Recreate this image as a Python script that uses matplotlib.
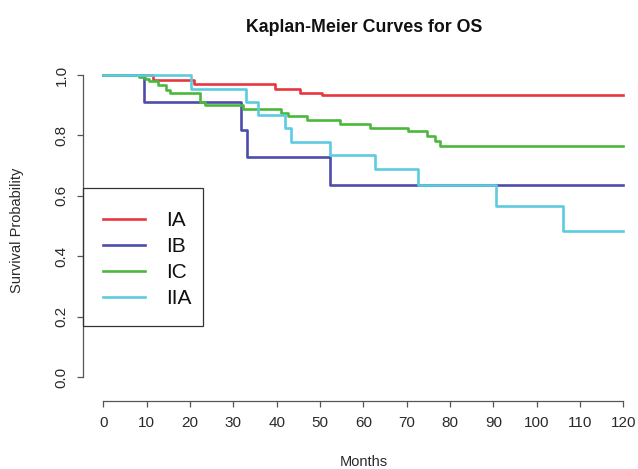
import matplotlib
matplotlib.use('Agg')
import matplotlib.pyplot as plt
from matplotlib.patches import Rectangle

# Kaplan-Meier step data (months, survival)
groups = ['IA', 'IB', 'IC', 'IIA']
colors = ['#e8363f', '#4d4cab', '#4bb83c', '#5ccbe0']

ia_t = [0, 11.5, 21.0, 39.5, 45.3, 50.5, 120]
ia_s = [1.0, 0.985, 0.971, 0.955, 0.941, 0.933, 0.933]

ib_t = [0, 9.3, 31.8, 33.1, 52.3, 120]
ib_s = [1.0, 0.909, 0.818, 0.727, 0.636, 0.636]

ic_t = [0, 8.3, 9.5, 10.6, 12.6, 14.5, 15.3, 22.2, 23.4, 32.2, 41.0, 42.6,
        46.9, 54.6, 61.5, 70.4, 74.6, 76.5, 77.7, 120]
ic_s = [1.0, 0.993, 0.988, 0.980, 0.966, 0.950, 0.939, 0.912, 0.901, 0.889,
        0.874, 0.865, 0.850, 0.838, 0.823, 0.814, 0.798, 0.782, 0.766, 0.766]

iia_t = [0, 20.3, 33.0, 35.6, 41.8, 43.4, 52.4, 62.7, 72.7, 90.6, 106.0, 120]
iia_s = [1.0, 0.955, 0.912, 0.869, 0.825, 0.779, 0.735, 0.688, 0.636, 0.566,
         0.485, 0.485]

x_ticks = list(range(0, 121, 10))
y_ticks = [0.0, 0.2, 0.4, 0.6, 0.8, 1.0]

plt.rcParams['font.family'] = ['Liberation Sans', 'DejaVu Sans']

W, H = 638, 469
fig = plt.figure(figsize=(W / 100, H / 100), dpi=100)
# axes placed in pixel terms, R style (4% padding on each side)
ax = fig.add_axes([82.7 / W, 1 - 389.1 / H, (644.1 - 82.7) / W, (389.1 - 62.9) / H])
ax.set_xlim(-4.8, 124.8)
ax.set_ylim(-0.04, 1.04)

series = [(ia_t, ia_s), (ib_t, ib_s), (ic_t, ic_s), (iia_t, iia_s)]
for (t, s), c, g in zip(series, colors, groups):
    ax.step(t, s, where='post', color=c, lw=1.9, label=g)

axis_col = '#555555'
text_col = '#2a2a2a'
for side in ['top', 'right']:
    ax.spines[side].set_visible(False)
ax.spines['left'].set_bounds(0, 1)
ax.spines['bottom'].set_bounds(0, 120)
ax.spines['bottom'].set_position(('outward', 8.6))
for side in ['left', 'bottom']:
    ax.spines[side].set_color(axis_col)
    ax.spines[side].set_linewidth(0.9)

ax.set_xticks(x_ticks)
ax.set_yticks(y_ticks)
ax.set_yticklabels([f'{v:.1f}' for v in y_ticks], rotation=90, va='center')
ax.tick_params(axis='both', direction='out', length=4.5, width=0.9,
               color=axis_col, labelcolor=text_col, labelsize=11)
ax.tick_params(axis='x', pad=6)
ax.tick_params(axis='y', pad=5.5)

fig.text(364 / W, 1 - 28 / H, 'Kaplan-Meier Curves for OS', ha='center',
         va='center', fontsize=12.8, fontweight='bold', color='#111111')
fig.text(364 / W, 1 - 462 / H, 'Months', ha='center', va='center',
         fontsize=10.5, color=text_col)
fig.text(17 / W, 1 - 230 / H, 'Survival Probability', ha='center',
         va='center', rotation=90, fontsize=10.5, color=text_col)

# legend box drawn as a rectangle, entries via legend without frame
fig.patches.append(Rectangle((82.7 / W, 1 - 326 / H), (203.3 - 82.7) / W,
                             (326 - 188.3) / H, transform=fig.transFigure,
                             fill=False, edgecolor='#333333', lw=0.9))
leg = ax.legend(loc='center left', bbox_to_anchor=(103 / W, 1 - 259.5 / H),
                bbox_transform=fig.transFigure, frameon=False, fontsize=15,
                handlelength=2.0, handletextpad=1.04, labelspacing=0.33,
                borderpad=0, borderaxespad=0)
for txt in leg.get_texts():
    txt.set_color('#111111')

fig.savefig('out.png', dpi=100)
